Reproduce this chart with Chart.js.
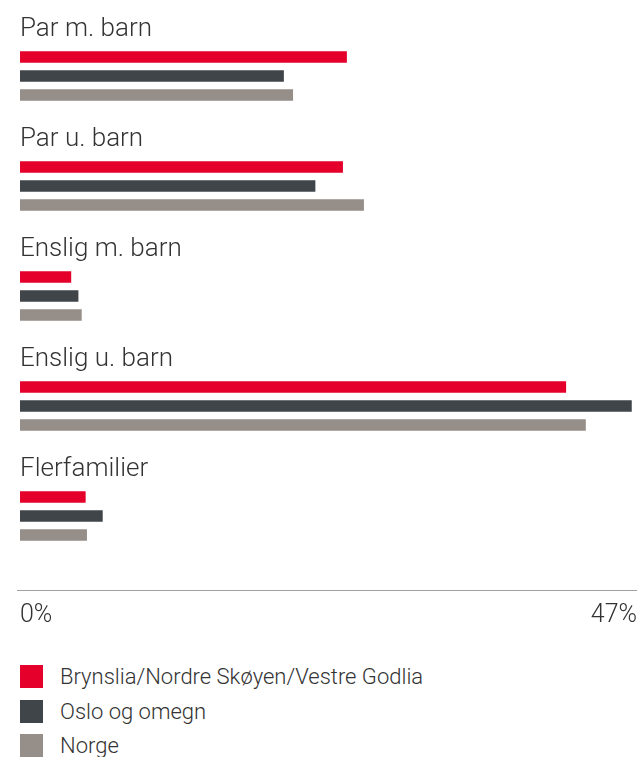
<!DOCTYPE html>
<html>
<head>
<meta charset="utf-8">
<script src="https://cdn.jsdelivr.net/npm/chart.js@4/dist/chart.umd.min.js"></script>
<style>
    html, body { margin: 0; padding: 0; background: #fff; }
    body { width: 638px; height: 757px; position: relative; overflow: hidden; font-family: Roboto, sans-serif; }
    #chart { position: absolute; left: 0; top: 0; }
    #legend { position: absolute; left: 20px; top: 665px; }
    .item { display: flex; align-items: center; height: 23px; margin-bottom: 11.5px; font-size: 22px; font-weight: 300; color: #333; }
    .box { width: 23px; height: 23px; margin-right: 17px; }
</style>
</head>
<body>
<canvas id="chart" width="638" height="650"></canvas>
<div id="legend"></div>
<script>
const categories = ['Par m. barn', 'Par u. barn', 'Enslig m. barn', 'Enslig u. barn', 'Flerfamilier'];
const brynslia = [24.9, 24.6, 3.9, 41.6, 5.0];
const oslo = [20.1, 22.5, 4.45, 46.6, 6.3];
const norge = [20.8, 26.2, 4.7, 43.1, 5.1];
const seriesNames = ['Brynslia/Nordre Skøyen/Vestre Godlia', 'Oslo og omegn', 'Norge'];
const seriesColors = ['#e4002b', '#404549', '#968e88'];
const xTicks = [0, 47];

// kategori-titler over hver gruppe + aksestrek under
const groupLabels = {
    id: 'groupLabels',
    afterDatasetsDraw(chart) {
        const ctx = chart.ctx;
        const y = chart.scales.y;
        ctx.save();
        ctx.font = '300 26px Roboto';
        ctx.fillStyle = '#333';
        ctx.textBaseline = 'alphabetic';
        ctx.textAlign = 'left';
        categories.forEach((c, i) => {
            ctx.fillText(c, chart.chartArea.left, y.getPixelForValue(i) - 40);
        });
        const ly = chart.chartArea.bottom + 19.5;
        ctx.strokeStyle = '#a0a0a0';
        ctx.lineWidth = 1;
        ctx.beginPath();
        ctx.moveTo(17, ly);
        ctx.lineTo(chart.chartArea.right, ly);
        ctx.stroke();
        ctx.restore();
    }
};

const ctx = document.getElementById('chart').getContext('2d');
const chart = new Chart(ctx, {
    type: 'bar',
    data: {
        labels: categories,
        datasets: [brynslia, oslo, norge].map((d, i) => ({
            label: seriesNames[i],
            data: d,
            backgroundColor: seriesColors[i],
            borderWidth: 0,
            barPercentage: 0.605,
            categoryPercentage: 0.518
        }))
    },
    options: {
        indexAxis: 'y',
        responsive: false,
        animation: false,
        layout: { padding: { left: 20, right: 1, top: 21, bottom: 22 } },
        plugins: {
            legend: { display: false },
            tooltip: { enabled: false }
        },
        scales: {
            y: { display: false },
            x: {
                min: xTicks[0],
                max: xTicks[1],
                afterBuildTicks: (scale) => { scale.ticks = xTicks.map(v => ({ value: v })); },
                afterFit: (scale) => {
                    scale.height = 57;
                    scale.paddingLeft = 0;
                    scale.paddingRight = 0;
                },
                grid: { display: false, drawTicks: false },
                border: { display: false },
                ticks: {
                    align: 'inner',
                    maxRotation: 0,
                    padding: 30,
                    color: '#333',
                    font: { family: 'Roboto', size: 25, weight: 300 },
                    callback: (v) => v + '%'
                }
            }
        }
    },
    plugins: [groupLabels]
});

const legend = document.getElementById('legend');
seriesNames.forEach((n, i) => {
    const it = document.createElement('div');
    it.className = 'item';
    it.innerHTML = '<span class="box" style="background:' + seriesColors[i] + '"></span><span>' + n + '</span>';
    legend.appendChild(it);
});
</script>
</body>
</html>
